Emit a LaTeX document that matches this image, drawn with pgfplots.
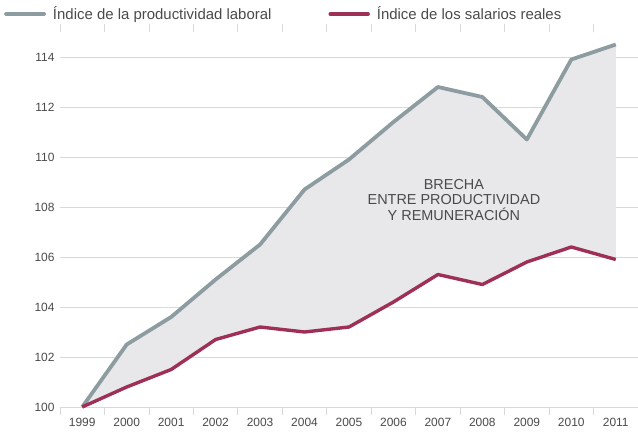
\documentclass[border=0pt]{standalone}
\usepackage{fontspec}
\setmainfont{Liberation Sans}
\usepackage{pgfplots}
\pgfplotsset{compat=1.18}
\usepgfplotslibrary{fillbetween}
\definecolor{prodgray}{HTML}{8D9CA0}
\definecolor{salred}{HTML}{9E2F57}
\definecolor{gapfill}{HTML}{E8E8EB}
\definecolor{gridc}{HTML}{D9D9D9}
\definecolor{txt}{HTML}{4A4A4A}
\begin{document}
\begin{tikzpicture}
\begin{axis}[
  scale only axis,
  width=578bp, height=375bp,
  xmin=1998.5, xmax=2011.5,
  ymin=100, ymax=115,
  axis line style={draw=none},
  xtick={1999,...,2011},
  xticklabels={1999,2000,2001,2002,2003,2004,2005,2006,2007,2008,2009,2010,2011},
  minor xtick={1998.5,1999.5,...,2011.5},
  major tick length=0pt,
  minor tick length=8bp,
  tick align=outside,
  minor tick style={gridc, line width=0.8pt},
  ytick={100,102,...,114},
  ymajorgrids,
  major grid style={gridc, line width=0.8pt},
  /pgf/number format/assume math mode=true,
  /pgf/number format/1000 sep={},
  tick label style={font=\fontsize{12}{12}\selectfont, text=txt},
  xticklabel style={yshift=-8bp},
  yticklabel style={xshift=-2bp},
  legend columns=2,
  legend cell align=left,
  legend style={draw=none, fill=none, inner sep=0pt,
    at={(rel axis cs:-0.0969,1.048)}, anchor=west,
    font=\fontsize{15}{17}\selectfont, text=txt,
    /tikz/every even column/.append style={column sep=50bp},
    nodes={inner xsep=7bp}},
  legend image code/.code={\draw[#1, line cap=round] (0bp,0bp) -- (38bp,0bp);},
  clip=false,
]
\addplot[name path=prod, draw=prodgray, line width=3.8bp, line join=round] coordinates {
 (1999,100) (2000,102.5) (2001,103.6) (2002,105.1) (2003,106.5) (2004,108.7)
 (2005,109.9) (2006,111.4) (2007,112.8) (2008,112.4) (2009,110.7) (2010,113.9) (2011,114.5)};
\addlegendentry{Índice de la productividad laboral}
\addplot[name path=sal, draw=salred, line width=3.4bp, line join=round] coordinates {
 (1999,100) (2000,100.8) (2001,101.5) (2002,102.7) (2003,103.2) (2004,103.0)
 (2005,103.2) (2006,104.2) (2007,105.3) (2008,104.9) (2009,105.8) (2010,106.4) (2011,105.9)};
\addlegendentry{Índice de los salarios reales}
\addplot[gapfill, forget plot, on layer=axis background] fill between[of=prod and sal];
\node[align=center, text=txt, font=\fontsize{14.5}{16}\selectfont] at (axis cs:2007.36,108.28)
 {BRECHA\\ENTRE PRODUCTIVIDAD\\Y REMUNERACIÓN};
\end{axis}
\pgfresetboundingbox
\path[use as bounding box] (-60bp,-29bp) rectangle (578bp,407bp);
\end{tikzpicture}
\end{document}
